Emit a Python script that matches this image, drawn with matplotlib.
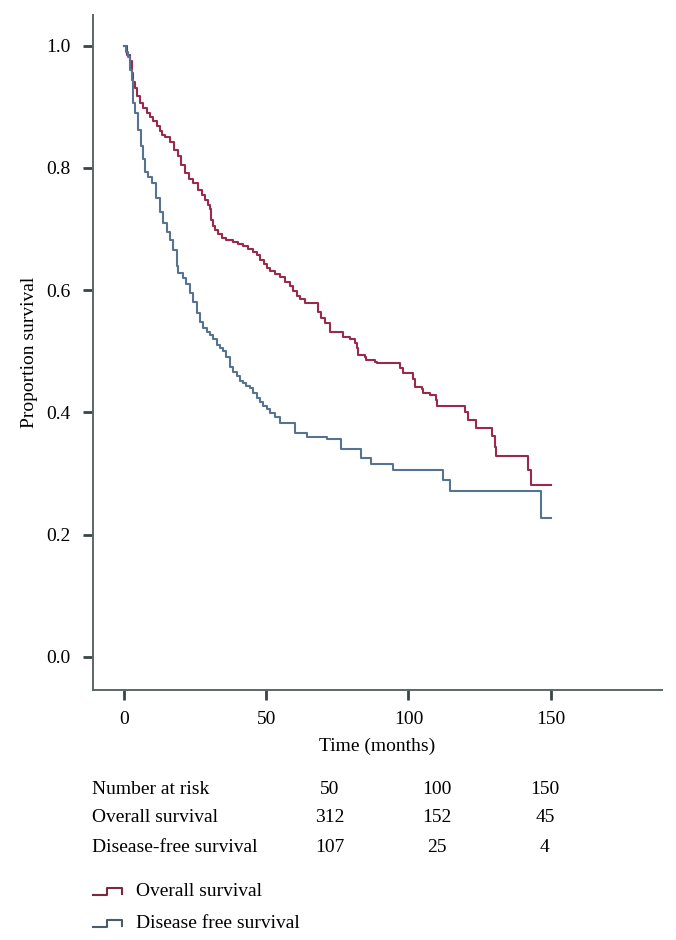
import matplotlib
matplotlib.use("Agg")
import matplotlib.pyplot as plt
from matplotlib.lines import Line2D
from matplotlib.patches import Rectangle

# ---------------- data ----------------
os_time = [0, 0.9, 2.1, 2.8, 3.2, 3.9, 4.5, 5.6, 6.7, 8.0, 9.1, 10.2, 11.5, 12.6, 13.2,
           14.4, 16.2, 17.6, 19.0, 20.0, 21.4, 22.8, 24.2, 26.0, 27.4, 28.5, 29.5, 30.2,
           30.6, 31.3, 32.0, 33.0, 34.3, 35.8, 38.3, 40.0, 41.8, 43.6, 45.3, 46.7, 47.8,
           49.2, 50.2, 51.3, 53.0, 54.8, 56.6, 58.3, 59.4, 60.7, 61.8, 63.6, 68.2, 69.2,
           70.6, 72.4, 76.9, 79.4, 81.1, 81.8, 82.2, 84.7, 85.2, 88.2, 88.8, 96.9, 98.0,
           101.5, 102.2, 104.6, 105.0, 107.5, 109.8, 110.1, 119.8, 120.8, 123.9, 129.2,
           130.3, 130.9, 141.9, 143.2, 150.0]
os_surv = [1.0, 0.985, 0.975, 0.955, 0.941, 0.93, 0.917, 0.906, 0.898, 0.89, 0.883, 0.876,
           0.868, 0.86, 0.854, 0.85, 0.843, 0.83, 0.819, 0.805, 0.792, 0.782, 0.776, 0.764,
           0.756, 0.748, 0.74, 0.732, 0.715, 0.705, 0.699, 0.692, 0.686, 0.682, 0.678, 0.675,
           0.672, 0.667, 0.663, 0.657, 0.65, 0.642, 0.636, 0.631, 0.627, 0.622, 0.614, 0.606,
           0.598, 0.59, 0.585, 0.579, 0.565, 0.555, 0.547, 0.532, 0.524, 0.52, 0.514, 0.505,
           0.494, 0.491, 0.486, 0.483, 0.481, 0.473, 0.465, 0.455, 0.442, 0.438, 0.432, 0.429,
           0.42, 0.411, 0.401, 0.388, 0.375, 0.361, 0.344, 0.328, 0.306, 0.2815, 0.2815]

dfs_time = [0, 0.7, 1.4, 2.1, 2.7, 3.2, 3.9, 4.9, 6.0, 6.7, 7.4, 8.4, 9.7, 11.2, 12.6, 13.7,
            15.1, 16.2, 17.2, 18.5, 19.0, 20.7, 21.8, 23.2, 24.2, 25.5, 26.7, 27.7, 29.2,
            30.2, 31.3, 32.6, 33.7, 34.8, 35.8, 37.2, 38.3, 39.6, 40.7, 41.8, 42.9, 44.3,
            45.3, 46.6, 47.8, 48.8, 50.2, 51.3, 53.0, 54.8, 60.1, 64.2, 71.3, 76.2, 83.2,
            86.8, 94.5, 112.0, 114.5, 146.5, 150.0]
dfs_surv = [1.0, 0.99, 0.982, 0.96, 0.944, 0.906, 0.89, 0.862, 0.835, 0.814, 0.794, 0.785,
            0.776, 0.75, 0.727, 0.71, 0.695, 0.682, 0.665, 0.64, 0.628, 0.62, 0.61, 0.596,
            0.58, 0.563, 0.548, 0.538, 0.532, 0.527, 0.52, 0.51, 0.505, 0.5, 0.49, 0.475,
            0.466, 0.459, 0.452, 0.448, 0.443, 0.44, 0.432, 0.424, 0.417, 0.41, 0.405, 0.399,
            0.392, 0.383, 0.367, 0.36, 0.356, 0.34, 0.326, 0.316, 0.306, 0.29, 0.272, 0.228,
            0.228]

x_ticks = [0, 50, 100, 150]
y_ticks = [0.0, 0.2, 0.4, 0.6, 0.8, 1.0]
y_tick_labels = ["0.0", "0.2", "0.4", "0.6", "0.8", "1.0"]

risk_header = ["Number at risk", "50", "100", "150"]
risk_os = ["Overall survival", "312", "152", "45"]
risk_dfs = ["Disease-free survival", "107", "25", "4"]

legend_labels = ["Overall survival", "Disease free survival"]

# ---------------- style ----------------
RED = "#9a2a4c"
BLUE = "#56738f"
LEG_RED = "#7a2a3c"
LEG_BLUE = "#4c5c6a"
SPINE = "#5c6868"
FONT = "Liberation Serif"
FS = 14

plt.rcParams["font.family"] = [FONT, "DejaVu Serif"]

W, H = 676, 940
fig = plt.figure(figsize=(W / 100, H / 100), dpi=100)

def fx(px):
    return px / W

def fy(py):
    return 1 - py / H

ax = fig.add_axes([fx(92.7), fy(690), fx(661.7) - fx(92.7), fy(15) - fy(690)])

ax.step(os_time, os_surv, where="post", color=RED, lw=1.5)
ax.step(dfs_time, dfs_surv, where="post", color=BLUE, lw=1.5)

ax.set_xlim(-11, 189)
ax.set_ylim(-0.054, 1.05)

ax.spines["top"].set_visible(False)
ax.spines["right"].set_visible(False)
for s in ("left", "bottom"):
    ax.spines[s].set_color(SPINE)
    ax.spines[s].set_linewidth(1.4)

ax.set_xticks(x_ticks)
ax.set_xticklabels([str(v) for v in x_ticks])
ax.set_yticks(y_ticks)
ax.set_yticklabels(y_tick_labels)
ax.tick_params(axis="both", direction="out", length=7, width=2.0, color="#3a4444",
               labelsize=FS, pad=8)
ax.tick_params(axis="y", pad=9)

ax.set_ylabel("Proportion survival", fontsize=FS)
ax.yaxis.set_label_coords((30 - 92.7) / (661.7 - 92.7), 0.5)
ax.yaxis.label.set_va("center")
ax.set_xlabel("Time (months)", fontsize=FS)
ax.xaxis.set_label_coords(0.5, (690 - 746) / (690 - 15))
ax.xaxis.label.set_va("center")

# at-risk table
col_x = [92, 330, 437, 545]
row_y = [790, 818, 847]
for row, yy in zip([risk_header, risk_os, risk_dfs], row_y):
    for j, (txt, xx) in enumerate(zip(row, col_x)):
        fig.text(fx(xx), fy(yy), txt, fontsize=FS,
                 ha="left" if j == 0 else "center", va="center")

# legend with step-shaped symbols
leg_y = [892, 924]
for lab, yy, col in zip(legend_labels, leg_y, [LEG_RED, LEG_BLUE]):
    xs = [93, 107, 107, 122, 122]
    ys = [yy + 3, yy + 3, yy - 4, yy - 4, yy + 2]
    fig.add_artist(Line2D([fx(v) for v in xs], [fy(v) for v in ys],
                          transform=fig.transFigure, color=col, lw=1.5))
    fig.text(fx(136), fy(yy), lab, fontsize=FS, ha="left", va="center")

# the reference image is cut off just below the last legend row
fig.add_artist(Rectangle((0, 0), 1, (940 - 932) / H, transform=fig.transFigure,
                         facecolor="white", edgecolor="none", zorder=10))

fig.savefig("out.png", dpi=100)
